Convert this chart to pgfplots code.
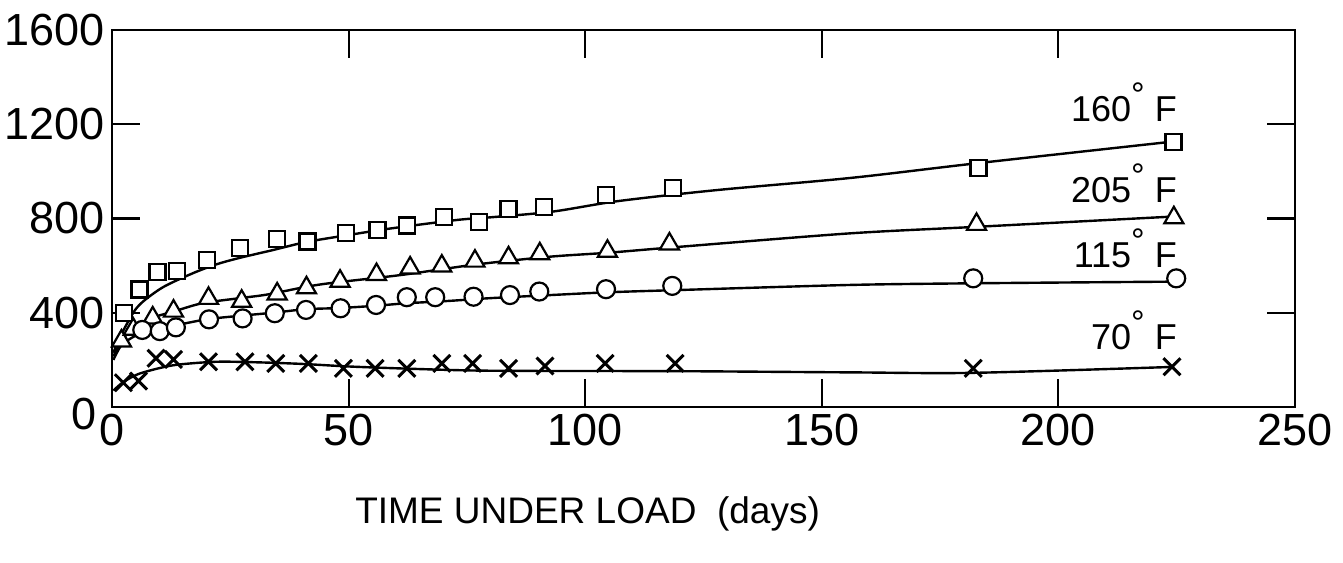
\documentclass[border=0pt]{standalone}
\usepackage{pgfplots}
\pgfplotsset{compat=1.18}
\usepackage{fontspec}
\setmainfont{Liberation Sans}
\newcommand{\dg}{\raisebox{7.5pt}{\fontsize{17}{17}\selectfont °}}
\begin{document}
\begin{tikzpicture}
\useasboundingbox (-56pt,-77.5pt) rectangle (615.5pt,203.5pt);
\begin{axis}[
  at={(0pt,0pt)}, anchor=south west,
  scale only axis, width=591.5pt, height=188.5pt,
  xmin=0, xmax=250, ymin=0, ymax=1600,
  xtick={0,50,...,250}, ytick={400,800,...,1600},
  extra y ticks={0},
  extra y tick style={yticklabel style={xshift=-4pt, yshift=-3.5pt}},
  tick align=inside, major tick length=14pt,
  every tick/.style={line width=1pt, black},
  axis line style={line width=1pt},
  ticklabel style={font=\fontsize{22.5}{26}\selectfont},
  /pgf/number format/assume math mode=true,
  /pgf/number format/1000 sep={},
  scaled ticks=false,
  xlabel={TIME UNDER LOAD\ \ (days)},
  xlabel style={font=\fontsize{18.5}{22}\selectfont, at={(axis description cs:0.402,0)}, anchor=base, yshift=-58pt},
]
% fitted curves
\addplot[line width=1.2pt, smooth, tension=0.5] coordinates {
 (0.3,230) (1.5,290) (3.4,362) (5,415) (7,455) (11,511) (17,567) (22,605) (27,633) (34,666) (41,700) (50,730) (59,758) (73,794) (80,805) (93,829) (107,874) (128,921) (156,972) (183,1035) (224,1126)};
\addplot[line width=1.2pt, smooth, tension=0.5] coordinates {
 (0.3,215) (2,280) (4,325) (8,375) (13,405) (19,440) (27,462) (33,478) (44,520) (61,560) (77,605) (92.6,638) (105,655) (120,680) (156,737) (183,765) (224,808)};
\addplot[line width=1.2pt, smooth, tension=0.5] coordinates {
 (0.3,200) (2,262) (5,303) (8,325) (13,345) (20,372) (27,387) (34,400) (41,415) (48,420) (56,430) (62,440) (71,450) (80,462) (92.6,475) (105,487) (120.7,497) (156,518) (182,525) (224,532)};
\addplot[line width=1.2pt, smooth, tension=0.5] coordinates {
 (0.3,70) (2,100) (4,125) (6,143) (10,165) (14,180) (22,192) (30,190) (40,183) (50,172) (62,163) (76,155) (90,153) (120,152) (156,147) (182,145) (224,170)};
% data points
\addplot[only marks, mark=square*, mark size=4pt, mark options={line width=1.1pt, fill=white, draw=black}] coordinates {
 (2.6,400) (5.8,499) (9.6,572) (13.7,578) (20.1,624) (27.0,674) (34.9,713) (41.3,702) (49.5,737) (56.1,751) (62.4,770) (70.2,808) (77.6,784) (83.8,839) (91.3,848) (104.4,899) (118.6,928) (183.1,1013) (224.3,1126)};
\addplot[only marks, mark=triangle*, mark size=5.5pt, mark options={line width=1.1pt, fill=white, draw=black}] coordinates {
 (2.0,280) (4.5,330) (8.6,378) (13.0,407) (20.4,461) (27.4,449) (34.9,480) (41.1,506) (48.2,534) (55.9,562) (63.0,590) (69.7,598) (76.7,619) (83.8,633) (90.4,650) (104.7,661) (117.8,692) (182.7,775) (224.4,803)};
\addplot[only marks, mark=*, mark size=4.5pt, mark options={line width=1.1pt, fill=white, draw=black}] coordinates {
 (6.4,327) (10.1,322) (13.5,338) (20.5,372) (27.6,376) (34.4,398) (41.0,412) (48.3,419) (55.8,433) (62.3,466) (68.3,466) (76.4,468) (84.1,475) (90.3,490) (104.4,500) (118.4,514) (182.0,546) (224.9,546)};
\addplot[only marks, mark=x, mark size=6pt, mark options={line width=1.5pt, draw=black}] coordinates {
 (2.4,103) (5.6,110) (9.3,207) (13.0,202) (20.4,192) (28.1,192) (34.6,185) (41.5,185) (48.9,164) (55.6,164) (62.3,164) (69.7,185) (76.2,185) (83.8,164) (91.5,174) (104.2,185) (119.0,185) (182.0,164) (224.0,171)};
% curve labels
\node[anchor=base east, font=\fontsize{18}{22}\selectfont] at (axis cs:226.5,1210) {160\dg\ F};
\node[anchor=base east, font=\fontsize{18}{22}\selectfont] at (axis cs:226.5,870) {205\dg\ F};
\node[anchor=base east, font=\fontsize{18}{22}\selectfont] at (axis cs:226.5,594) {115\dg\ F};
\node[anchor=base east, font=\fontsize{18}{22}\selectfont] at (axis cs:226.5,242) {70\dg\ F};
\end{axis}
\end{tikzpicture}
\end{document}
